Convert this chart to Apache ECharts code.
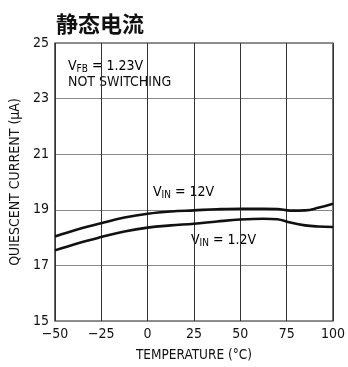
<!DOCTYPE html>
<html><head><meta charset="utf-8">
<script src="https://cdn.jsdelivr.net/npm/echarts@6/dist/echarts.min.js"></script>
<style>html,body{margin:0;padding:0;background:#fff}#c{width:348px;height:367px}</style>
</head><body><div id="c"></div>
<script>
var temps = [-50,-37.5,-25,-12.5,0,12.5,25,37.5,50,62.5,70,77,85,92,100];
var vin12 = [18.04,18.3,18.52,18.72,18.86,18.94,18.98,19.02,19.04,19.04,19.03,18.97,18.98,19.07,19.22];
var vin1p2 = [17.54,17.8,18.02,18.22,18.36,18.44,18.5,18.58,18.65,18.68,18.66,18.54,18.44,18.4,18.38];
var xTicks = [-50,-25,0,25,50,75,100];
var yTicks = [15,17,19,21,23,25];

var FONT = '"DejaVu Sans Condensed","Liberation Sans Narrow",sans-serif';
function pairs(xs, ys){ return xs.map(function(x,i){return [x, ys[i]];}); }
var chart = echarts.init(document.getElementById('c'));
var sub = {fontFamily: FONT, fontSize: 10, color:'#111', padding:[7,0,0,0]};
var base = {fontFamily: FONT, fontSize: 14, color:'#111'};
chart.setOption({
  backgroundColor:'#fff',
  animation:false,
  title:{text:'静态电流', left:51, top:8, textStyle:{fontFamily:'"Noto Sans CJK SC",sans-serif', fontWeight:'bold', fontSize:22, color:'#111'}},
  grid:{left:52, right:13, top:43, bottom:42, show:true, borderColor:'#222', borderWidth:1.2},
  xAxis:{type:'value', min:-50, max:100, interval:25,
    name:'TEMPERATURE (°C)', nameLocation:'middle', nameGap:27,
    nameTextStyle:{fontFamily:FONT, fontSize:13.5, color:'#111'},
    axisLine:{show:false}, axisTick:{show:false},
    axisLabel:{fontFamily:FONT, fontSize:14, color:'#111', margin:6, formatter:function(v){return xTicks.indexOf(v)>=0 ? String(v).replace('-','−') : '';}},
    splitLine:{show:true, lineStyle:{color:'#333', width:1}}},
  yAxis:{type:'value', min:15, max:25, interval:2,
    name:'QUIESCENT CURRENT (µA)', nameLocation:'middle', nameGap:32,
    nameTextStyle:{fontFamily:FONT, fontSize:14, color:'#111'},
    axisLine:{show:false}, axisTick:{show:false},
    axisLabel:{fontFamily:FONT, fontSize:14, color:'#111', margin:6, formatter:function(v){return yTicks.indexOf(v)>=0 ? v : '';}},
    splitLine:{show:true, lineStyle:{color:'#888', width:1}}},
  series:[
    {type:'line', data:pairs(temps, vin12), smooth:0.4, symbol:'none', lineStyle:{color:'#111', width:2.6}},
    {type:'line', data:pairs(temps, vin1p2), smooth:0.4, symbol:'none', lineStyle:{color:'#111', width:2.6}}
  ],
  graphic:[
    {type:'text', left:68, top:59, style:{text:'{a|V}{s|FB}{a| = 1.23V}', rich:{a:base, s:sub}}},
    {type:'text', left:68, top:75, style:{text:'NOT SWITCHING', fontFamily:FONT, fontSize:14, fill:'#111'}},
    {type:'text', left:153, top:185, style:{text:'{a|V}{s|IN}{a| = 12V}', rich:{a:base, s:sub}}},
    {type:'text', left:191, top:233, style:{text:'{a|V}{s|IN}{a| = 1.2V}', rich:{a:base, s:sub}}}
  ]
});
</script></body></html>
